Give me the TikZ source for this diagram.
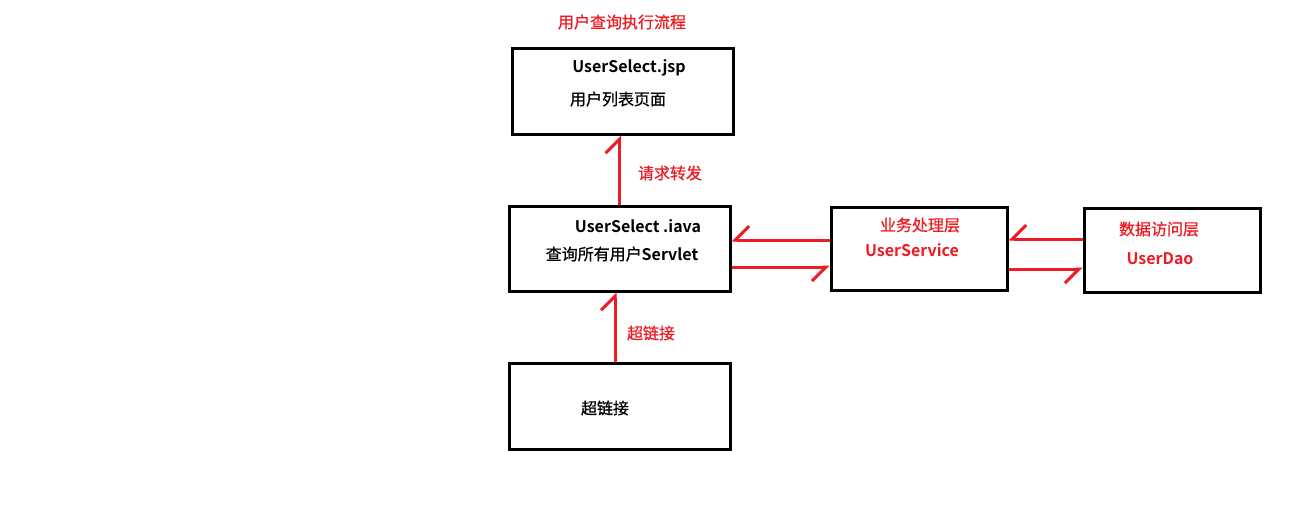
\documentclass[tikz,border=0pt]{standalone}
\usepackage{fontspec}
\setmainfont{Noto Sans CJK SC}[BoldFont={Noto Sans CJK SC Bold}]
\newfontfamily\hanthick{Noto Sans CJK SC}[FakeBold=0.8]
\usetikzlibrary{arrows.meta}
\definecolor{pred}{HTML}{ED1C24}
\begin{document}
\begin{tikzpicture}[x=1pt,y=-1pt,
  box/.style={draw=black, line width=3pt, inner sep=0pt, fill=white},
  lbl/.style={inner sep=0pt, font=\fontsize{16pt}{18pt}\selectfont\hanthick},
  rlbl/.style={lbl, text=pred},
  arr/.style={draw=pred, line width=3pt},
  harpL/.style={arr, -{Straight Barb[harpoon, left, length=14pt, width=28pt, line width=3pt]}},
  harpR/.style={arr, -{Straight Barb[harpoon, right, length=14pt, width=28pt, line width=3pt]}}]
\useasboundingbox[fill=white] (0,0) rectangle (1316,514);

% title
\node[rlbl] (title) at (622,22) {用户查询执行流程};

% boxes
\node[box, minimum width=221pt, minimum height=86pt] (jsp) at (622.5,91) {};
\node[box, minimum width=221pt, minimum height=85pt] (java) at (619.5,248.5) {};
\node[box, minimum width=176pt, minimum height=83pt] (svc) at (919,248.5) {};
\node[box, minimum width=176pt, minimum height=84pt] (dao) at (1172,250) {};
\node[box, minimum width=221pt, minimum height=86pt] (link) at (619.5,406) {};

% box texts
\node[lbl] (jspA) at (629,68) {\normalfont\bfseries UserSelect.jsp};
\node[lbl] (jspB) at (618,99) {用户列表页面};
\node[lbl] (javaA) at (638,226) {\normalfont\bfseries UserSelect .iava};
\node[lbl] (javaB) at (622,254) {查询所有用户{\normalfont\bfseries Servlet}};
\node[rlbl] (svcA) at (920,225) {业务处理层};
\node[rlbl] (svcB) at (912,250) {\normalfont\bfseries UserService};
\node[rlbl] (daoA) at (1159,229) {数据访问层};
\node[rlbl] (daoB) at (1160,259) {\normalfont\bfseries UserDao};
\node[lbl] (linkA) at (605,408) {超链接};

% connectors
\draw[harpL] (java.north) -- (java.north |- jsp.south);
\node[rlbl] (fwd) at (670,173) {请求转发};
\draw[harpL] ([xshift=-4.5pt]link.north) -- ([xshift=-4.5pt]link.north |- java.south);
\node[rlbl] (href) at (651,333) {超链接};

\draw[harpR] ([yshift=8.5pt]svc.west) -- ([yshift=8.5pt]java.east);
\draw[harpR] ([yshift=-18.5pt]java.east) -- ([yshift=-18.5pt]svc.west);
\draw[harpR] ([yshift=11pt]dao.west) -- ([yshift=9.5pt]svc.east);
\draw[harpR] ([yshift=-20.5pt]svc.east) -- ([yshift=-19pt]dao.west);
\end{tikzpicture}
\end{document}
